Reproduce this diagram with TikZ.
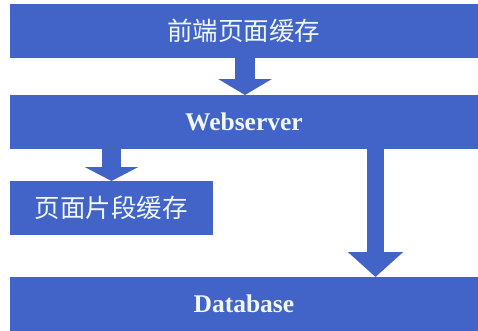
\documentclass[tikz,border=0pt]{standalone}
\usepackage{fontspec}
\setmainfont{Liberation Serif}
\newfontfamily\cjk{Noto Sans CJK SC}
\usetikzlibrary{arrows.meta}
\definecolor{barblue}{RGB}{66,99,200}
\definecolor{txt}{RGB}{240,248,244}
\tikzset{
  bar/.style={fill=barblue, draw=none, anchor=north west, inner sep=0pt, text=txt},
  cjklabel/.style={font=\cjk\fontsize{25.5}{28}\selectfont},
  enlabel/.style={font=\bfseries\fontsize{25.5}{28}\selectfont},
  blockarrow/.style={draw=barblue, line width=#1},
}
\begin{document}
\begin{tikzpicture}[x=1pt,y=-1pt]
\useasboundingbox (0,0) rectangle (478,330);
\node[bar, minimum width=468.5pt, minimum height=54pt] (top) at (9.5,4) {};
\node[cjklabel, text=txt] at (top.center) {前端页面缓存};
\node[bar, minimum width=468.5pt, minimum height=54pt] (web) at (9.5,95) {};
\node[enlabel, text=txt] at (web.center) {Webserver};
\node[bar, minimum width=203.5pt, minimum height=54pt] (frag) at (9.5,181) {};
\node[cjklabel, text=txt] at (frag.center) {页面片段缓存};
\node[bar, minimum width=468.5pt, minimum height=54pt] (db) at (9.5,277) {};
\node[enlabel, text=txt] at (db.center) {Database};
\coordinate (a1) at (245,0);
\coordinate (a2) at (111.5,0);
\coordinate (a3) at (375.5,0);
\draw[blockarrow=20pt, -{Triangle[width=53pt,length=16pt]}] (top.south -| a1) -- (web.north -| a1);
\draw[blockarrow=19pt, -{Triangle[width=53pt,length=14pt]}] (web.south -| a2) -- (frag.north -| a2);
\draw[blockarrow=17pt, -{Triangle[width=54pt,length=25pt]}] (web.south -| a3) -- (db.north -| a3);
\end{tikzpicture}
\end{document}
